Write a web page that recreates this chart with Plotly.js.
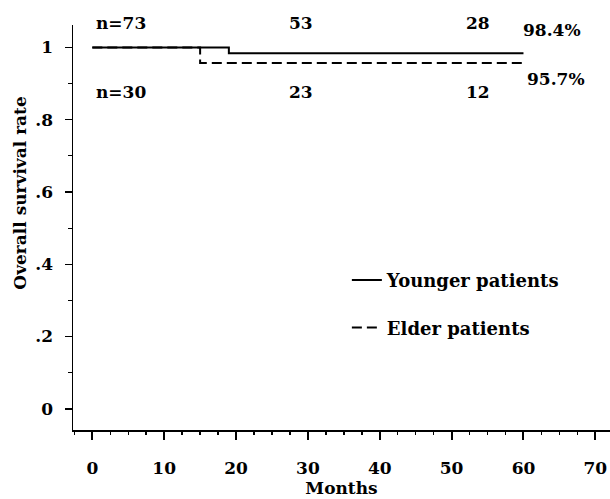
<!DOCTYPE html>
<html>
<head>
<meta charset="utf-8">
<script src="https://cdn.plot.ly/plotly-3.0.1.min.js"></script>
<style>html,body{margin:0;padding:0;background:#fff}#chart{width:610px;height:499px}</style>
</head>
<body>
<div id="chart"></div>
<script>
// Data
const youngerMonths = [0, 19, 60];
const youngerSurvival = [1.0, 0.984, 0.984];
const elderMonths = [0, 15, 60];
const elderSurvival = [1.0, 0.957, 0.957];
const youngerAtRisk = ["n=73", "53", "28"];
const elderAtRisk = ["n=30", "23", "12"];
const yTickVals = [0, 0.2, 0.4, 0.6, 0.8, 1];
const yTickText = ["0", ".2", ".4", ".6", ".8", "1"];
const xTickVals = [0, 10, 20, 30, 40, 50, 60, 70];

const FONT = "DejaVu Serif, Liberation Serif, serif";
const bold = (s) => "<b>" + s + "</b>";
const txtFont = (sz) => ({family: FONT, size: sz, color: "#000"});

const traces = [
  {x: youngerMonths, y: youngerSurvival, mode: "lines", line: {shape: "hv", color: "#000", width: 2},
   name: bold("Younger patients"), legendgroup: "a"},
  {x: elderMonths, y: elderSurvival, mode: "lines", line: {shape: "hv", color: "#000", width: 2, dash: "10px,5px"},
   name: bold("Elder patients"), legendgroup: "b"}
];

// label positions (x in months)
const riskX = [4.0, 29.0, 53.7];
const annotations = [];
youngerAtRisk.forEach((t, i) => annotations.push({x: riskX[i], y: 1.0, yanchor: "middle", xref: "x", yref: "paper", yshift: 2, text: bold(t), showarrow: false, font: txtFont(17)}));
elderAtRisk.forEach((t, i) => annotations.push({x: riskX[i], y: 0.877, xref: "x", yref: "y", text: bold(t), showarrow: false, font: txtFont(17)}));
annotations.push({x: 64.0, y: 1.048, xref: "x", yref: "y", text: bold((youngerSurvival[2]*100).toFixed(1) + "%"), showarrow: false, font: txtFont(17)});
annotations.push({x: 64.5, y: 0.913, xref: "x", yref: "y", text: bold((elderSurvival[2]*100).toFixed(1) + "%"), showarrow: false, font: txtFont(17)});
// y-axis title (placed as in the original, above centre)
annotations.push({x: -0.0987, y: 0.586, xref: "paper", yref: "paper", xanchor: "center", yanchor: "middle",
                  text: bold("Overall survival rate"), textangle: -90, showarrow: false, font: txtFont(17)});

const layout = {
  width: 610, height: 499,
  margin: {l: 73, r: 0, t: 25, b: 68.5},
  paper_bgcolor: "#fff", plot_bgcolor: "#fff",
  showlegend: true,
  legend: {x: 0.51, y: 0.415, xanchor: "left", yanchor: "top", font: txtFont(18),
           traceorder: "grouped", tracegroupgap: 21, bgcolor: "rgba(0,0,0,0)", itemwidth: 30},
  xaxis: {range: [-2.69, 72.04], tickvals: xTickVals, ticktext: xTickVals.map(v => bold(v)),
          ticks: "outside", ticklen: 8, tickwidth: 2, tickcolor: "#000",
          minor: {dtick: 2.5, tick0: 0, ticks: "outside", ticklen: 3, tickwidth: 1.5, tickcolor: "#000"},
          showline: true, linecolor: "#000", linewidth: 2, showgrid: false, zeroline: false,
          tickfont: txtFont(17), ticklabelstandoff: 14,
          title: {text: bold("Months"), font: txtFont(17), standoff: 4}},
  yaxis: {range: [-0.0586, 1.062], tickvals: yTickVals, ticktext: yTickText.map(bold),
          ticks: "outside", ticklen: 7, tickwidth: 1.5, tickcolor: "#000",
          minor: {dtick: 0.1, tick0: 0, ticks: "outside", ticklen: 4, tickwidth: 1, tickcolor: "#000"},
          showline: true, linecolor: "#000", linewidth: 1.5, showgrid: false, zeroline: false,
          tickfont: txtFont(17), ticklabelstandoff: 8},
  annotations: annotations
};

Plotly.newPlot("chart", traces, layout, {displayModeBar: false, staticPlot: true});
</script>
</body>
</html>
